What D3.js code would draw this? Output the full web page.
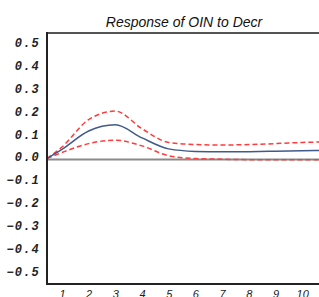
<!DOCTYPE html>
<html><head><meta charset="utf-8">
<script src="https://cdn.jsdelivr.net/npm/d3@7"></script>
<style>body{margin:0;background:#fff}svg{display:block}</style>
</head><body><svg id="c" width="319" height="297"></svg>
<script>
const title = "Response of OIN to Decr";
const periods = [0.44, 1, 2, 3, 4, 5, 6, 7, 8, 9, 10, 11];
const response = [0, 0.04, 0.12, 0.147, 0.09, 0.042, 0.031, 0.029, 0.030, 0.032, 0.034, 0.036];
const upper = [0, 0.05, 0.17, 0.207, 0.13, 0.07, 0.061, 0.059, 0.061, 0.065, 0.07, 0.073];
const lower = [0, 0.026, 0.065, 0.08, 0.055, 0.012, 0.0, -0.003, -0.005, -0.005, -0.005, -0.005];
const yTicks = [0.5, 0.4, 0.3, 0.2, 0.1, 0.0, -0.1, -0.2, -0.3, -0.4, -0.5];
const xTicks = [1, 2, 3, 4, 5, 6, 7, 8, 9, 10];

const svg = d3.select("#c");
const L = 47, T = 33, B = 284;
const x = d3.scaleLinear().domain([0.44, 10.63]).range([L, 319]);
const y = d3.scaleLinear().domain([-0.5, 0.5]).range([273, 44]);

const g = svg.append("g");
g.append("defs").append("clipPath").attr("id","clip").append("rect")
  .attr("x", L).attr("y", T).attr("width", 319 - L).attr("height", B - T);

// zero line
g.append("line").attr("x1", L).attr("x2", 319).attr("y1", y(0) + 1).attr("y2", y(0) + 1)
  .attr("stroke", "#8a8a8a").attr("stroke-width", 2);

const line = d3.line().x((d, i) => x(periods[i])).y(d => y(d)).curve(d3.curveMonotoneX);
const plot = g.append("g").attr("clip-path", "url(#clip)");
plot.append("path").attr("d", line(upper)).attr("fill", "none")
  .attr("stroke", "#ff3b3b").attr("stroke-width", 1.5).attr("stroke-dasharray", "5,3");
plot.append("path").attr("d", line(lower)).attr("fill", "none")
  .attr("stroke", "#ff3b3b").attr("stroke-width", 1.5).attr("stroke-dasharray", "5,3");
plot.append("path").attr("d", line(response)).attr("fill", "none")
  .attr("stroke", "#3f5a8c").attr("stroke-width", 1.5);

// frame
g.append("line").attr("x1", L).attr("x2", 319).attr("y1", T).attr("y2", T)
  .attr("stroke", "#555").attr("stroke-width", 2);
g.append("line").attr("x1", L).attr("x2", 319).attr("y1", B).attr("y2", B)
  .attr("stroke", "#222").attr("stroke-width", 2);
g.append("line").attr("x1", L).attr("x2", L).attr("y1", T - 1).attr("y2", B + 1)
  .attr("stroke", "#222").attr("stroke-width", 2);

// y axis labels
const yAxis = d3.axisLeft(y).tickValues(yTicks).tickSize(0).tickPadding(0)
  .tickFormat(d => d3.format(".1f")(d).replace("-", "\u2212"));
const ya = g.append("g").attr("transform", `translate(${L - 7},0)`).call(yAxis);
ya.select(".domain").remove();
ya.selectAll("text").attr("font-family", "Liberation Mono, monospace").attr("font-style", "italic")
  .attr("font-weight", "bold")
  .attr("font-size", 12).attr("fill", "#222").attr("letter-spacing", 1.2).attr("dy", "0.2em");

// x axis labels
const xAxis = d3.axisBottom(x).tickValues(xTicks).tickSize(0).tickPadding(0).tickFormat(d3.format("d"));
const xa = g.append("g").attr("transform", `translate(0,${B + 4})`).call(xAxis);
xa.select(".domain").remove();
xa.selectAll("text").attr("font-family", "Liberation Sans, Arial, sans-serif").attr("font-style", "italic")
  .attr("font-size", 11).attr("fill", "#222").attr("dy", "0.9em");

svg.append("text").attr("x", 184).attr("y", 27).attr("text-anchor", "middle")
  .attr("font-family", "Liberation Sans, Arial, sans-serif").attr("font-style", "italic")
  .attr("font-size", 14).attr("fill", "#111").text(title);
</script></body></html>
